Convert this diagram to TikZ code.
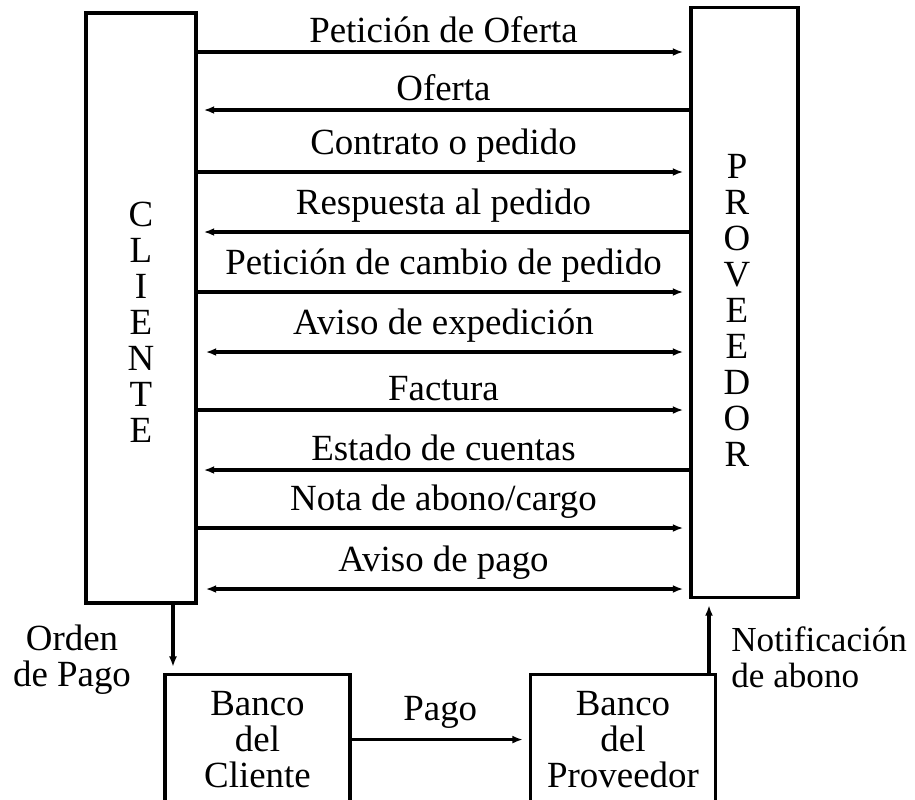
\documentclass[tikz,border=0pt]{standalone}
\usepackage{fontspec}
\setmainfont{Liberation Serif}
\usetikzlibrary{arrows.meta,positioning}

\begin{document}
\begin{tikzpicture}[
      x=0.02cm, y=-0.02cm,
      every node/.style={font=\fontsize{21}{20.5}\selectfont},
      party/.style={draw, line width=1.9pt, inner sep=0pt, minimum width=#1, minimum height=11.8cm},
      bank/.style={draw, line width=1.8pt, anchor=north, align=center, inner sep=0pt,
                   minimum width=3.7cm, minimum height=2.6cm},
      msg/.style={line width=1.8pt},
      tofwd/.style={-{Latex[length=6pt,width=4.5pt]}, shorten >=0.12cm},
      toback/.style={{Latex[length=6pt,width=4.5pt]}-, shorten <=0.12cm},
      tobo/.style={{Latex[length=6pt,width=4.5pt]}-{Latex[length=6pt,width=4.5pt]},
                   shorten >=0.12cm, shorten <=0.16cm}]
    \useasboundingbox (0,0) rectangle (915,799);
    \clip (0,0) rectangle (915,799);
    % the two parties
    \node[party=2.2cm] (cliente) at (141,308) {};
    \node[party=2.14cm] (proveedor) at (744.5,302.5) {};
    \node[align=center] (clientetxt) at (141,322) {C\\L\\I\\E\\N\\T\\E};
    \node[align=center] (proveedortxt) at (737,310) {P\\R\\O\\V\\E\\E\\D\\O\\R};
    % messages between them
    \foreach \y/\txt/\tip in {52/Petición de Oferta/tofwd,
                              110/Oferta/toback,
                              172/Contrato o pedido/tofwd,
                              232/Respuesta al pedido/toback,
                              292/Petición de cambio de pedido/tofwd,
                              352/Aviso de expedición/tobo,
                              410/Factura/tofwd,
                              470/Estado de cuentas/toback,
                              528/{Nota de abono/cargo}/tofwd,
                              589/Aviso de pago/tobo}
      \draw[msg,\tip] (cliente.east |- 0,\y) -- node[above=1pt] {\txt} (proveedor.west |- 0,\y);
    % the banks
    \node[bank] (bancocli) at (257.5,673) {Banco\\del\\Cliente};
    \node[bank] (bancoprov) at (623,673) {Banco\\del\\Proveedor};
    \coordinate (ordenx) at (173,0);
    \coordinate (notifx) at (709,0);
    \draw[msg,tofwd] (cliente.south -| ordenx) -- (bancocli.north -| ordenx);
    \draw[msg,tofwd] (bancoprov.north -| notifx) -- (proveedor.south -| notifx);
    \draw[msg,tofwd] (bancocli.east) -- node[above=2pt] (pago) {Pago} (bancoprov.west);
    \node[align=center] (orden) at (72,660) {Orden\\de Pago};
    \node[align=left, anchor=west, inner sep=0pt, font=\fontsize{20}{20.5}\selectfont]
      (notif) at (731,657) {Notificación\\de abono};
\end{tikzpicture}
\end{document}
